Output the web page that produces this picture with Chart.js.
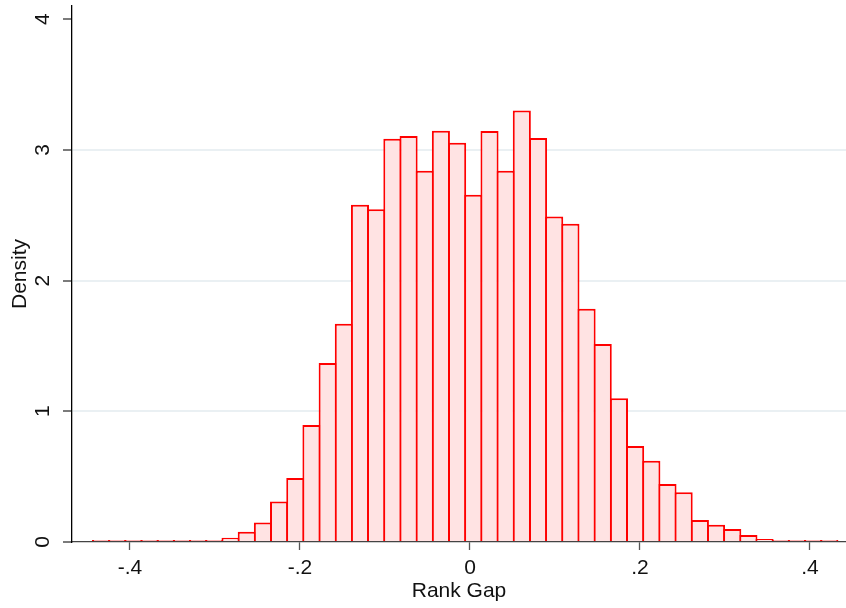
<!DOCTYPE html>
<html>
<head>
<meta charset="utf-8">
<script src="https://cdn.jsdelivr.net/npm/chart.js@4"></script>
<style>
  html, body { margin: 0; padding: 0; background: #fff; }
  #chart { display: block; }
</style>
</head>
<body>
<canvas id="chart" width="846" height="608"></canvas>
<script>
// bin centres of the histogram (Rank Gap)
const binCenters = [
  -0.4340, -0.4150, -0.3959, -0.3769, -0.3578, -0.3388, -0.3198, -0.3007,
  -0.2817, -0.2626, -0.2436, -0.2246, -0.2055, -0.1865, -0.1674, -0.1484,
  -0.1294, -0.1103, -0.0913, -0.0722, -0.0532, -0.0342, -0.0151, 0.0039,
  0.0230, 0.0420, 0.0610, 0.0801, 0.0991, 0.1182, 0.1372, 0.1562,
  0.1753, 0.1943, 0.2134, 0.2324, 0.2514, 0.2705, 0.2895, 0.3086,
  0.3276, 0.3466, 0.3657, 0.3847, 0.4038, 0.4228
];
// density in each bin
const density = [
  0.004, 0.004, 0.005, 0.004, 0.005, 0.008, 0.013, 0.015,
  0.033, 0.079, 0.15, 0.31, 0.49, 0.895, 1.37, 1.67,
  2.58, 2.545, 3.085, 3.105, 2.84, 3.146, 3.054, 2.656,
  3.143, 2.84, 3.30, 3.09, 2.49, 2.435, 1.785, 1.514,
  1.10, 0.734, 0.622, 0.444, 0.38, 0.168, 0.132, 0.099,
  0.054, 0.023, 0.01, 0.008, 0.006, 0.005
];
const xTicks = [-0.4, -0.2, 0, 0.2, 0.4];
const xTickLabels = ["-.4", "-.2", "0", ".2", ".4"];
const yTicks = [0, 1, 2, 3, 4];

const font = { family: "'Liberation Sans', Arial, sans-serif", size: 21 };

const ctx = document.getElementById("chart").getContext("2d");
new Chart(ctx, {
  type: "bar",
  data: {
    datasets: [
      {
        data: binCenters.map((x, i) => ({ x: x, y: density[i] })),
        backgroundColor: "#ffe3e3",
        borderColor: "#ff0000",
        borderWidth: 2,
        minBarLength: 2,
        barPercentage: 1.12,
        categoryPercentage: 1,
      },
    ],
  },
  options: {
    responsive: false,
    animation: false,
    devicePixelRatio: 1,
    layout: { padding: { top: 6, right: 0, bottom: 0, left: 0 } },
    plugins: { legend: { display: false }, tooltip: { enabled: false } },
    scales: {
      x: {
        type: "linear",
        offset: false,
        min: -0.4682,
        max: 0.4424,
        afterBuildTicks: (scale) => {
          scale.ticks = xTicks.map((v) => ({ value: v }));
        },
        afterFit: (scale) => {
          scale.height = 66;
          scale.paddingLeft = 0;
          scale.paddingRight = 0;
        },
        ticks: {
          color: "#111",
          font: font,
          padding: 6,
          maxRotation: 0,
          callback: (v) => xTickLabels[xTicks.indexOf(v)],
        },
        grid: {
          offset: false,
          color: "transparent",
          drawOnChartArea: false,
          tickLength: 8,
          tickColor: "#555",
          tickWidth: 1.3,
        },
        border: { color: "#444", width: 1.3 },
        title: {
          display: true,
          text: "Rank Gap",
          color: "#111",
          font: font,
          padding: { top: 0, bottom: 4 },
        },
      },
      y: {
        min: 0,
        max: 4.1,
        afterBuildTicks: (scale) => {
          scale.ticks = yTicks.map((v) => ({ value: v }));
        },
        afterFit: (scale) => {
          scale.width = 72;
          scale.paddingTop = 0;
          scale.paddingBottom = 0;
        },
        ticks: {
          color: "#111",
          font: font,
          padding: 14,
          minRotation: 90,
          maxRotation: 90,
          crossAlign: "center",
        },
        grid: {
          color: (c) =>
            c.tick && c.tick.value > 0 && c.tick.value < 4 ? "#eaf0f3" : "transparent",
          lineWidth: 2,
          tickLength: 9,
          tickColor: "#333",
          tickWidth: 1.3,
        },
        border: { color: "#000", width: 1.3 },
        title: {
          display: true,
          text: "Density",
          color: "#111",
          font: font,
          padding: { top: 8, bottom: 0 },
        },
      },
    },
  },
});
</script>
</body>
</html>
